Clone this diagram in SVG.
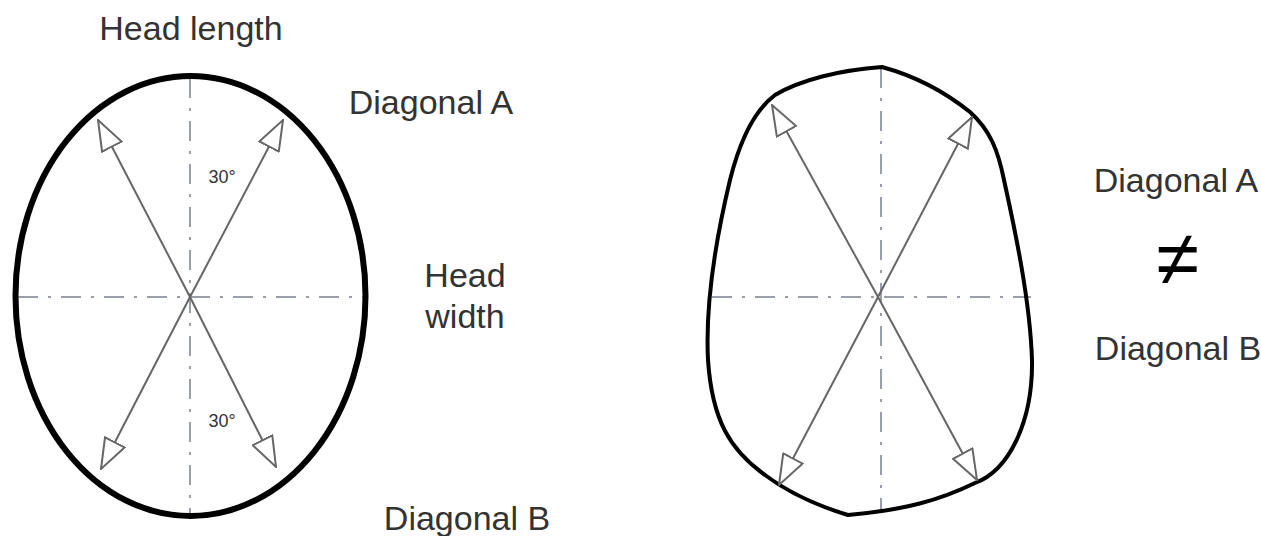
<svg xmlns="http://www.w3.org/2000/svg" width="1261" height="536" viewBox="0 0 1261 536">
<defs>
<style>
.axis{stroke:#9a9ea8;stroke-width:2;fill:none;stroke-dasharray:20 10 3 10}
.outline{stroke:#000;stroke-width:4;fill:none}
.thick{stroke-width:6}
.diag{stroke:#666;stroke-width:2;fill:none;marker-end:url(#arr)}
.lbl{font-family:"Liberation Sans",Arial,sans-serif;font-size:34px;fill:#333}
.small{font-family:"Liberation Sans",Arial,sans-serif;font-size:18px;fill:#333}
</style>
<marker id="arr" viewBox="0 0 32 24" refX="31" refY="12" markerWidth="32" markerHeight="24" markerUnits="userSpaceOnUse" orient="auto">
<path d="M1,1 L31,12 L1,23 Z" fill="#fff" stroke="#666" stroke-width="2" stroke-linejoin="miter"/>
</marker>
</defs>
<rect width="1261" height="536" fill="#fff"/>
<g id="left-head">
<line class="axis" x1="190" y1="78" x2="190" y2="515"/>
<line class="axis" x1="18" y1="297" x2="364" y2="297"/>
<ellipse class="outline thick" cx="190.5" cy="296" rx="175" ry="220"/>
</g>
<g id="right-head">
<line class="axis" x1="881" y1="68" x2="881" y2="511"/>
<line class="axis" x1="712" y1="297" x2="1031" y2="297"/>
<path class="outline" d="M882,67 C915,76 945,92 970,112 C990,130 998,150 1004,180 C1015,230 1030,300 1032,360 C1033,420 1010,470 975,483 C940,500 905,510 848,515 C815,505 785,490 765,475 C730,450 712,420 708,360 C705,300 718,230 730,180 C740,140 755,110 775,95 C800,80 840,70 882,67 Z"/>
</g>
<g id="connectors">
<line class="diag" x1="190" y1="297" x2="98" y2="120"/>
<line class="diag" x1="190" y1="297" x2="283" y2="120"/>
<line class="diag" x1="190" y1="297" x2="101" y2="469"/>
<line class="diag" x1="190" y1="297" x2="276" y2="467"/>
<line class="diag" x1="878" y1="297" x2="772" y2="105"/>
<line class="diag" x1="878" y1="297" x2="972" y2="117"/>
<line class="diag" x1="878" y1="297" x2="779" y2="485"/>
<line class="diag" x1="878" y1="297" x2="977" y2="480"/>
</g>
<g id="labels">
<text class="lbl" x="191" y="40" text-anchor="middle">Head length</text>
<text class="lbl" x="431" y="114" text-anchor="middle">Diagonal A</text>
<text class="lbl" x="465" y="287" text-anchor="middle">Head</text>
<text class="lbl" x="465" y="328" text-anchor="middle">width</text>
<text class="lbl" x="467" y="530" text-anchor="middle">Diagonal B</text>
<text class="small" x="222" y="183" text-anchor="middle">30°</text>
<text class="small" x="222" y="427" text-anchor="middle">30°</text>
<text class="lbl" x="1176" y="192" text-anchor="middle">Diagonal A</text>
<text class="lbl" x="1178" y="360" text-anchor="middle">Diagonal B</text>
<text class="lbl" x="1178" y="285" text-anchor="middle" style="font-size:78px;fill:#000">≠</text>
</g>
</svg>
